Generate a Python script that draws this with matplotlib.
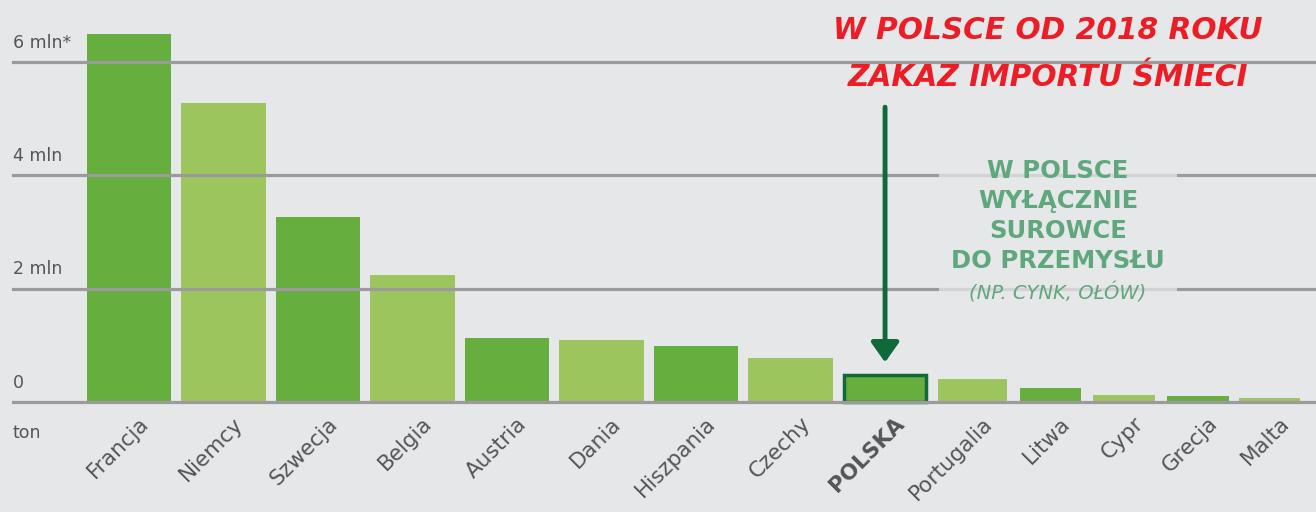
import numpy as np
import matplotlib.pyplot as plt
from matplotlib.patches import Rectangle

# data (mln ton)
countries = ["Francja", "Niemcy", "Szwecja", "Belgia", "Austria", "Dania", "Hiszpania",
             "Czechy", "POLSKA", "Portugalia", "Litwa", "Cypr", "Grecja", "Malta"]
values = [6.49, 5.27, 3.26, 2.24, 1.13, 1.09, 0.99, 0.78, 0.48, 0.41, 0.25, 0.12, 0.11, 0.07]
yticks = [0, 2, 4, 6]
ytick_labels = ["0", "2 mln", "4 mln", "6 mln*"]

# layout: first nine slots are wide, the rest narrower
steps = [1.0] * 8 + [0.93, 0.82, 0.78, 0.78, 0.76]
x = np.concatenate([[0], np.cumsum(steps)])
widths = [0.89] * 8 + [0.87, 0.73] + [0.65] * 4

bg = "#e6e7e9"
dark = "#66ae3e"
light = "#9cc65d"
grid_c = "#9b9b9d"
txt_c = "#555555"
arrow_c = "#10693a"
note_c = "#5fa77c"

fig = plt.figure(figsize=(13.16, 5.12), dpi=100, facecolor=bg)
ax = fig.add_axes([0, 0, 1, 1])
ax.set_facecolor(bg)
ax.set_xlim(-1.365, 12.56)
ax.set_ylim(-1.94, 7.09)
ax.axis("off")

colors = [dark if i % 2 == 0 else light for i in range(len(values))]
bars = ax.bar(x, values, width=widths, color=colors, zorder=2)
pl = countries.index("POLSKA")
bars[pl].set_edgecolor(arrow_c)
bars[pl].set_linewidth(2.5)

for t, lab in zip(yticks, ytick_labels):
    ax.axhline(t, xmin=0.0099, xmax=1, color=grid_c, lw=2.3, zorder=3)
    ax.text(-1.23, t + 0.18, lab, fontsize=12.5, color=txt_c, ha="left", va="bottom")
ax.text(-1.23, -0.55, "ton", fontsize=12.5, color=txt_c, ha="left", va="center")

for xi, name in zip(x, countries):
    ax.text(xi + 0.1, -0.2, name, rotation=45, rotation_mode="anchor",
            ha="right", va="top", fontsize=15.5, color=txt_c,
            fontweight="bold" if name == "POLSKA" else "normal")

# red heading
ax.text(x[pl] + 1.72, 6.55, "W POLSCE OD 2018 ROKU", color="#ee1c25", fontsize=21.3,
        fontstyle="italic", fontweight="semibold", ha="center", va="center", zorder=5)
ax.text(x[pl] + 1.72, 5.72, "ZAKAZ IMPORTU ŚMIECI", color="#ee1c25", fontsize=21.3,
        fontstyle="italic", fontweight="semibold", ha="center", va="center", zorder=5)

# arrow down to Polska
ax.annotate("", xy=(x[pl], 0.7), xytext=(x[pl], 5.2),
            arrowprops=dict(arrowstyle="-|>,head_width=0.85,head_length=1.2",
                            color=arrow_c, lw=3.5, shrinkA=0, shrinkB=0), zorder=6)

# green note with light box over gridlines
ax.add_patch(Rectangle((8.57, 1.6), 2.52, 3.95, facecolor=bg, edgecolor="none",
                       alpha=0.75, zorder=4))
ax.text(x[pl] + 1.83, 3.28, "W POLSCE\nWYŁĄCZNIE\nSUROWCE\nDO PRZEMYSŁU",
        color=note_c, fontsize=17.5, fontweight="bold", ha="center", va="center",
        linespacing=1.3, zorder=5)
ax.text(x[pl] + 1.83, 1.92, "(NP. CYNK, OŁÓW)", color=note_c, fontsize=14,
        fontstyle="italic", ha="center", va="center", zorder=5)

fig.savefig("out.png", dpi=100, facecolor=bg)
